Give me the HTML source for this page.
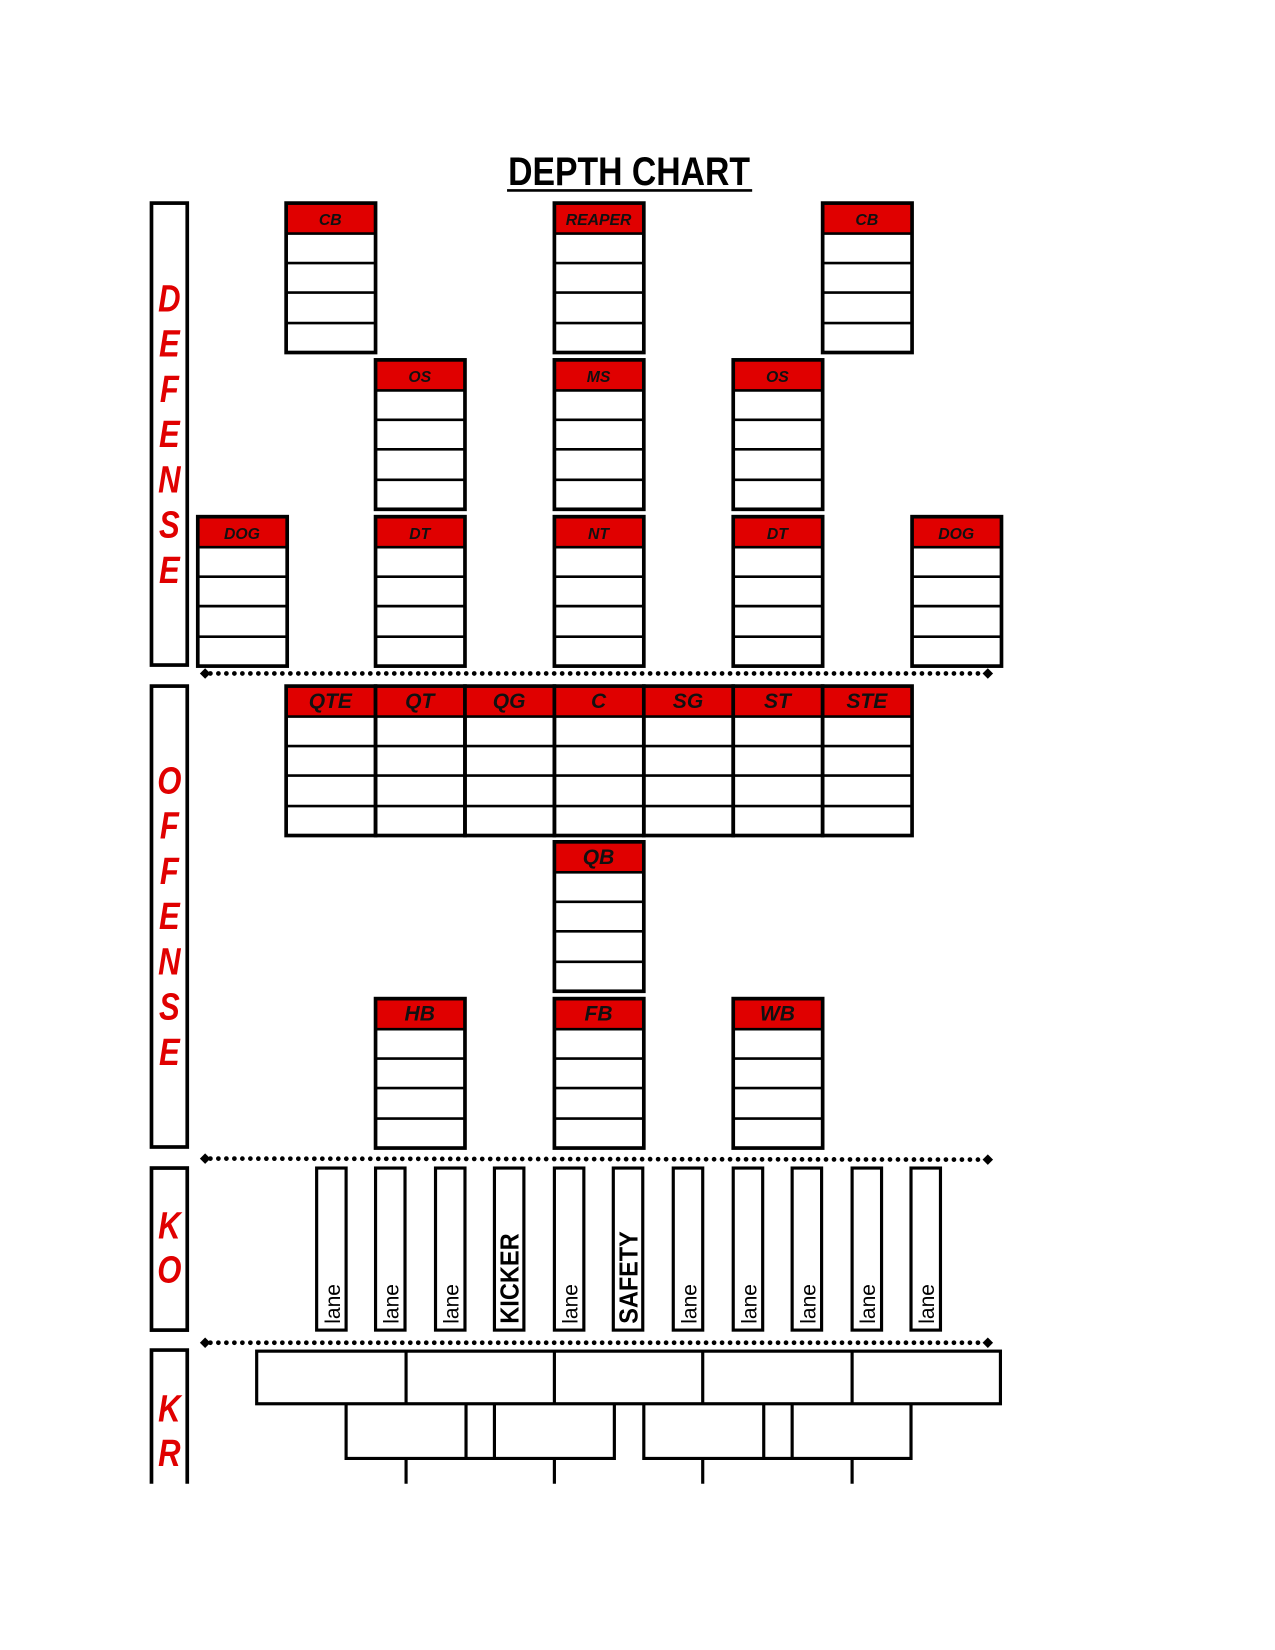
<!DOCTYPE html>
<html><head><meta charset="utf-8"><style>
html,body{margin:0;padding:0;background:#fff;}
svg{display:block;}
text{font-family:"Liberation Sans",sans-serif;}
</style></head><body>
<svg width="1275" height="1650" viewBox="0 0 1212 1568" preserveAspectRatio="none" xmlns="http://www.w3.org/2000/svg">
<rect x="0" y="0" width="1212" height="1568" fill="#fff"/>
<text x="598" y="176" font-size="38" font-weight="bold" text-anchor="middle" textLength="230" lengthAdjust="spacingAndGlyphs">DEPTH CHART</text>
<line x1="482" y1="181" x2="715" y2="181" stroke="#000" stroke-width="2.5"/>
<g fill="none" stroke="#000" stroke-width="3.5">
<rect x="144" y="193" width="34" height="439"/>
<rect x="144" y="652" width="34" height="438"/>
<rect x="144" y="1110" width="34" height="154"/>
<path d="M144 1410 V1283 H178 V1410"/>
</g>
<g font-size="36" font-weight="bold" font-style="italic" fill="#e00000" text-anchor="middle" transform="translate(161,0) scale(0.82,1) translate(-161,0)">
<text x="161" y="296">D</text><text x="161" y="339">E</text><text x="161" y="382">F</text><text x="161" y="425">E</text><text x="161" y="468">N</text><text x="161" y="511">S</text><text x="161" y="554">E</text>
<text x="161" y="754">O</text><text x="161" y="797">F</text><text x="161" y="840">F</text><text x="161" y="883">E</text><text x="161" y="926">N</text><text x="161" y="969">S</text><text x="161" y="1012">E</text>
<text x="161" y="1177">K</text><text x="161" y="1219">O</text>
<text x="161" y="1351">K</text><text x="161" y="1393">R</text>
</g>
<defs>
<g id="box">
<rect x="0" y="0" width="85" height="29" fill="#e00000"/>
<rect x="0" y="0" width="85" height="142" fill="none" stroke="#000" stroke-width="3.5"/>
<g stroke="#000" stroke-width="2.5"><line x1="0" y1="29" x2="85" y2="29"/><line x1="0" y1="57" x2="85" y2="57"/><line x1="0" y1="85" x2="85" y2="85"/><line x1="0" y1="114" x2="85" y2="114"/></g>
</g>
</defs>
<g font-size="15" font-weight="bold" font-style="italic" text-anchor="middle" fill="#111">
<use href="#box" x="272" y="193"/><text x="314" y="214">CB</text>
<use href="#box" x="527" y="193"/><text x="569" y="214">REAPER</text>
<use href="#box" x="782" y="193"/><text x="824" y="214">CB</text>
<use href="#box" x="357" y="342"/><text x="399" y="363">OS</text>
<use href="#box" x="527" y="342"/><text x="569" y="363">MS</text>
<use href="#box" x="697" y="342"/><text x="739" y="363">OS</text>
<use href="#box" x="188" y="491"/><text x="230" y="512">DOG</text>
<use href="#box" x="357" y="491"/><text x="399" y="512">DT</text>
<use href="#box" x="527" y="491"/><text x="569" y="512">NT</text>
<use href="#box" x="697" y="491"/><text x="739" y="512">DT</text>
<use href="#box" x="867" y="491"/><text x="909" y="512">DOG</text>
</g>
<g font-size="20" font-weight="bold" font-style="italic" text-anchor="middle" fill="#111">
<use href="#box" x="272" y="652"/><text x="314" y="673">QTE</text>
<use href="#box" x="357" y="652"/><text x="399" y="673">QT</text>
<use href="#box" x="442" y="652"/><text x="484" y="673">QG</text>
<use href="#box" x="527" y="652"/><text x="569" y="673">C</text>
<use href="#box" x="612" y="652"/><text x="654" y="673">SG</text>
<use href="#box" x="697" y="652"/><text x="739" y="673">ST</text>
<use href="#box" x="782" y="652"/><text x="824" y="673">STE</text>
<use href="#box" x="527" y="800"/><text x="569" y="821">QB</text>
<use href="#box" x="357" y="949"/><text x="399" y="970">HB</text>
<use href="#box" x="527" y="949"/><text x="569" y="970">FB</text>
<use href="#box" x="697" y="949"/><text x="739" y="970">WB</text>
</g>
<g stroke="#000" stroke-width="4.5" stroke-linecap="round" stroke-dasharray="0 7.6">
<line x1="200" y1="640" x2="936" y2="640"/>
<line x1="200" y1="1101" x2="936" y2="1102"/>
<line x1="200" y1="1276" x2="936" y2="1276"/>
</g>
<g fill="#000">
<path d="M190 640 l5 -5 l5 5 l-5 5z"/><path d="M934 640 l5 -5 l5 5 l-5 5z"/>
<path d="M190 1101 l5 -5 l5 5 l-5 5z"/><path d="M934 1102 l5 -5 l5 5 l-5 5z"/>
<path d="M190 1276 l5 -5 l5 5 l-5 5z"/><path d="M934 1276 l5 -5 l5 5 l-5 5z"/>
</g>
<g fill="none" stroke="#000" stroke-width="3">
<rect x="301" y="1110" width="28" height="154"/><rect x="357" y="1110" width="28" height="154"/><rect x="414" y="1110" width="28" height="154"/><rect x="470" y="1110" width="28" height="154"/><rect x="527" y="1110" width="28" height="154"/><rect x="583" y="1110" width="28" height="154"/><rect x="640" y="1110" width="28" height="154"/><rect x="697" y="1110" width="28" height="154"/><rect x="753" y="1110" width="28" height="154"/><rect x="810" y="1110" width="28" height="154"/><rect x="866" y="1110" width="28" height="154"/>
</g>
<g font-size="20" fill="#000">
<text transform="translate(323,1258) rotate(-90)">lane</text>
<text transform="translate(379,1258) rotate(-90)">lane</text>
<text transform="translate(436,1258) rotate(-90)">lane</text>
<text transform="translate(493,1258) rotate(-90)" font-size="25" font-weight="bold" textLength="86" lengthAdjust="spacingAndGlyphs">KICKER</text>
<text transform="translate(549,1258) rotate(-90)">lane</text>
<text transform="translate(606,1258) rotate(-90)" font-size="25" font-weight="bold" textLength="88" lengthAdjust="spacingAndGlyphs">SAFETY</text>
<text transform="translate(662,1258) rotate(-90)">lane</text>
<text transform="translate(719,1258) rotate(-90)">lane</text>
<text transform="translate(775,1258) rotate(-90)">lane</text>
<text transform="translate(832,1258) rotate(-90)">lane</text>
<text transform="translate(888,1258) rotate(-90)">lane</text>
</g>
<g fill="none" stroke="#000" stroke-width="3">
<rect x="244" y="1284" width="707" height="50"/>
<line x1="386" y1="1284" x2="386" y2="1334"/><line x1="527" y1="1284" x2="527" y2="1334"/><line x1="668" y1="1284" x2="668" y2="1334"/><line x1="810" y1="1284" x2="810" y2="1334"/>
<path d="M329 1334 V1386 H584 V1334"/><line x1="443" y1="1334" x2="443" y2="1386"/><line x1="470" y1="1334" x2="470" y2="1386"/>
<path d="M612 1334 V1386 H866 V1334"/><line x1="726" y1="1334" x2="726" y2="1386"/><line x1="753" y1="1334" x2="753" y2="1386"/>
<line x1="386" y1="1386" x2="386" y2="1410"/><line x1="527" y1="1386" x2="527" y2="1410"/><line x1="668" y1="1386" x2="668" y2="1410"/><line x1="810" y1="1386" x2="810" y2="1410"/>
</g>
</svg>
</body></html>
